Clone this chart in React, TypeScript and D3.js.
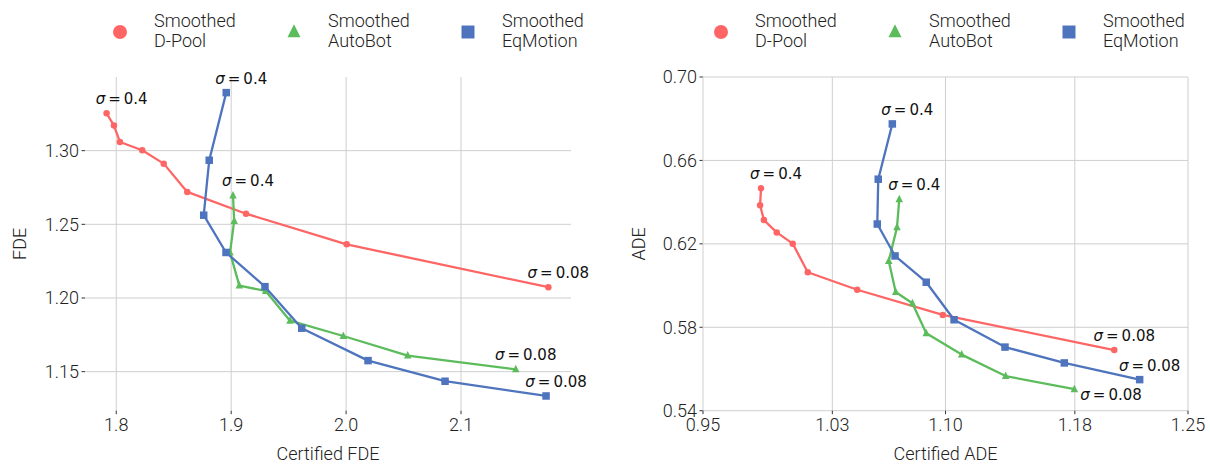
import React from 'react'
import * as d3 from 'd3'

// left panel: FDE against certified FDE
const fdeTicksX = [1.8, 1.9, 2.0, 2.1]
const fdeTicksY = [1.15, 1.2, 1.25, 1.3]
const fdeDPool: [number, number][] = [
  [1.7916, 1.3254], [1.798, 1.317], [1.8032, 1.3059], [1.8226, 1.3003], [1.8413, 1.2912],
  [1.8618, 1.272], [1.9129, 1.2572], [2.0005, 1.2364], [2.176, 1.2073],
]
const fdeAutoBot: [number, number][] = [
  [1.9016, 1.2696], [1.9026, 1.2523], [1.899, 1.2308], [1.9071, 1.2084], [1.93, 1.2048],
  [1.9512, 1.1846], [1.9976, 1.1742], [2.0536, 1.1609], [2.1476, 1.1516],
]
const fdeEqMotion: [number, number][] = [
  [1.8957, 1.3394], [1.8809, 1.2935], [1.8761, 1.2562], [1.8955, 1.2309], [1.9294, 1.2077],
  [1.9614, 1.1795], [2.0191, 1.1575], [2.0861, 1.1435], [2.174, 1.1335],
]

// right panel: ADE against certified ADE
const adeTicksX = [0.95, 1.03, 1.1, 1.18, 1.25]
const adeTicksY = [0.54, 0.58, 0.62, 0.66, 0.7]
const adeDPool: [number, number][] = [
  [0.9859, 0.6466], [0.9853, 0.6385], [0.9877, 0.6314], [0.9956, 0.6255], [1.0055, 0.6201],
  [1.0148, 0.6064], [1.0454, 0.598], [1.0983, 0.5859], [1.2044, 0.5691],
]
const adeAutoBot: [number, number][] = [
  [1.0714, 0.6414], [1.07, 0.6279], [1.0649, 0.6118], [1.0692, 0.5969], [1.0795, 0.5915],
  [1.0881, 0.5771], [1.11, 0.5669], [1.1372, 0.5566], [1.1797, 0.5503],
]
const adeEqMotion: [number, number][] = [
  [1.0671, 0.6775], [1.0584, 0.651], [1.0578, 0.6295], [1.0688, 0.6142], [1.0881, 0.6016],
  [1.1053, 0.5836], [1.1368, 0.5705], [1.1735, 0.5629], [1.2201, 0.5549],
]

const sigmaHigh = '0.4'
const sigmaLow = '0.08'
const modelNames = ['D-Pool', 'AutoBot', 'EqMotion']

const RED = '#fe6666'
const GREEN = '#5cbc5c'
const BLUE = '#4e74bd'
const UI_FONT = 'Roboto, "Liberation Sans", sans-serif'

type Lbl = { dx: number; dy: number; anchor: string }
type Series = {
  pts: [number, number][]
  color: string
  shape: string
  first: Lbl
  last: Lbl
}

const tri = (x: number, y: number, s: number) =>
  `M${x},${y - s * 0.6}L${x + s * 0.5},${y + s * 0.4}L${x - s * 0.5},${y + s * 0.4}Z`

function Marker({ shape, x, y, color, s }: any) {
  if (shape === 'circle') return <circle cx={x} cy={y} r={s / 2} fill={color} />
  if (shape === 'square') return <rect x={x - s / 2} y={y - s / 2} width={s} height={s} fill={color} />
  return <path d={tri(x, y, s)} fill={color} />
}

function Sigma({ x, y, val, lbl }: any) {
  return (
    <text x={x + lbl.dx} y={y + lbl.dy} textAnchor={lbl.anchor}
      fontFamily="DejaVu Sans" fontSize={15} fill="#111">
      <tspan fontStyle="italic">σ</tspan>{'\u2009=\u2009' + val}
    </text>
  )
}

function Panel(props: any) {
  const { x0, x1, xDomain, yDomain, xTicks, yTicks, xFmt, xTitle, yTitle, yTitleX, series, legendXs } = props
  const top = 77
  const bottom = 410.7
  const x = d3.scaleLinear().domain(xDomain).range([x0, x1])
  const y = d3.scaleLinear().domain(yDomain).range([bottom, top])
  const line = d3.line<[number, number]>().x(d => x(d[0])).y(d => y(d[1]))
  const yFmt = d3.format('.2f')

  return (
    <g>
      {/* grid */}
      {yTicks.map((t: number) => (
        <g key={'y' + t}>
          <line x1={x0} x2={x1} y1={y(t)} y2={y(t)} stroke="#cfcfcf" strokeWidth={1} />
          <line x1={x0 - 3.5} x2={x0} y1={y(t)} y2={y(t)} stroke="#333" strokeWidth={1} />
          <text x={x0 - 6} y={y(t)} dy="0.35em" textAnchor="end" fontFamily={UI_FONT}
            fontWeight={300} fontSize={18} fill="#222">{yFmt(t)}</text>
        </g>
      ))}
      {xTicks.map((t: number) => (
        <g key={'x' + t}>
          <line x1={x(t)} x2={x(t)} y1={top} y2={bottom} stroke="#cfcfcf" strokeWidth={1} />
          <line x1={x(t)} x2={x(t)} y1={bottom} y2={bottom + 3.5} stroke="#333" strokeWidth={1} />
          <text x={x(t)} y={430.5} textAnchor="middle" fontFamily={UI_FONT}
            fontWeight={300} fontSize={18} fill="#222">{xFmt(t)}</text>
        </g>
      ))}
      <text x={(x0 + x1) / 2} y={460} textAnchor="middle" fontFamily={UI_FONT}
        fontWeight={300} fontSize={18} fill="#222">{xTitle}</text>
      <text transform={`translate(${yTitleX},${(top + bottom) / 2}) rotate(-90)`} textAnchor="middle"
        fontFamily={UI_FONT} fontWeight={300} fontSize={18} fill="#222">{yTitle}</text>

      {/* series */}
      {series.map((s: Series, i: number) => (
        <g key={i}>
          <path d={line(s.pts) || ''} fill="none" stroke={s.color} strokeWidth={2.3} strokeLinejoin="round" />
          {s.pts.map((p, j) => (
            <Marker key={j} shape={s.shape} x={x(p[0])} y={y(p[1])} color={s.color}
              s={s.shape === 'circle' ? 6.5 : 7.5} />
          ))}
        </g>
      ))}
      {series.map((s: Series, i: number) => {
        const a = s.pts[0]
        const b = s.pts[s.pts.length - 1]
        return (
          <g key={'l' + i}>
            <Sigma x={x(a[0])} y={y(a[1])} val={sigmaHigh} lbl={s.first} />
            <Sigma x={x(b[0])} y={y(b[1])} val={sigmaLow} lbl={s.last} />
          </g>
        )
      })}

      {/* legend */}
      {series.map((s: Series, i: number) => (
        <g key={'g' + i}>
          <Marker shape={s.shape} x={legendXs[i]} y={32} color={s.color} s={s.shape === 'circle' ? 14 : 13} />
          <text x={legendXs[i] + 34} y={26.5} fontFamily={UI_FONT} fontWeight={300} fontSize={18} fill="#222">
            Smoothed
            <tspan x={legendXs[i] + 34} dy={20.5}>{modelNames[i]}</tspan>
          </text>
        </g>
      ))}
    </g>
  )
}

const up: Lbl = { dx: 15, dy: -9, anchor: 'middle' }
const low: Lbl = { dx: 10, dy: -9, anchor: 'middle' }

export default function App() {
  const leftSeries: Series[] = [
    { pts: fdeDPool, color: RED, shape: 'circle', first: up, last: low },
    { pts: fdeAutoBot, color: GREEN, shape: 'triangle', first: up, last: low },
    { pts: fdeEqMotion, color: BLUE, shape: 'square', first: up, last: low },
  ]
  const rightSeries: Series[] = [
    { pts: adeDPool, color: RED, shape: 'circle', first: up, last: low },
    { pts: adeAutoBot, color: GREEN, shape: 'triangle', first: up, last: { dx: 6, dy: 11, anchor: 'start' } },
    { pts: adeEqMotion, color: BLUE, shape: 'square', first: up, last: low },
  ]
  return (
    <svg width={1210} height={466} style={{ position: 'absolute', left: 0, top: 0, background: '#fff' }}>
      <Panel x0={85} x1={571} xDomain={[1.7728, 2.1957]} yDomain={[1.1235, 1.35]}
        xTicks={fdeTicksX} yTicks={fdeTicksY} xFmt={d3.format('.1f')}
        xTitle="Certified FDE" yTitle="FDE" yTitleX={26} series={leftSeries}
        legendXs={[120, 294, 468]} />
      <Panel x0={703} x1={1188} xDomain={[0.95, 1.25]} yDomain={[0.54, 0.7]}
        xTicks={adeTicksX} yTicks={adeTicksY} xFmt={d3.format('.2f')}
        xTitle="Certified ADE" yTitle="ADE" yTitleX={645} series={rightSeries}
        legendXs={[721, 895, 1069]} />
    </svg>
  )
}
